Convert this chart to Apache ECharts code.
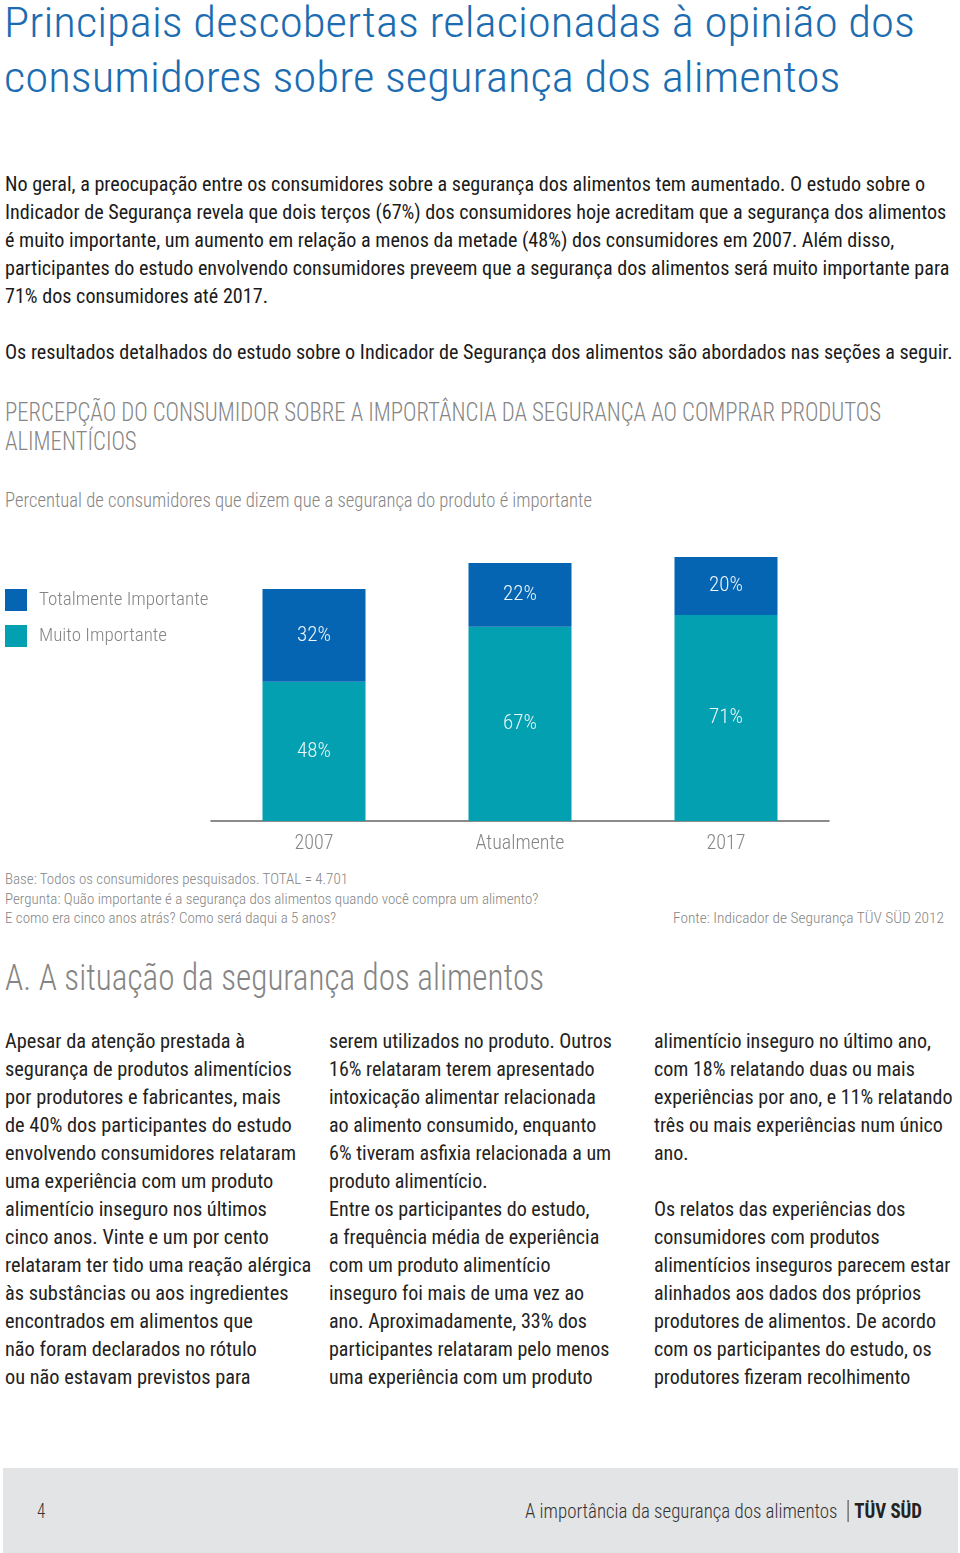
<!DOCTYPE html>
<html><head><meta charset="utf-8">
<script src="https://cdn.jsdelivr.net/npm/echarts@6/dist/echarts.min.js"></script>
<style>
html,body{margin:0;padding:0;background:#fff;}
body{width:960px;height:1553px;position:relative;overflow:hidden;font-family:"Liberation Sans Narrow","Roboto Condensed",Roboto,sans-serif;}
.b{position:absolute;white-space:nowrap;transform-origin:0 0;}
.b div{white-space:nowrap;}
.lt{font-weight:300;}
#chart{position:absolute;left:0;top:530px;width:960px;height:340px;}
#footer{position:absolute;left:3px;top:1468px;width:955px;height:85px;background:#e3e4e5;}
</style></head><body>

<div class="b lt" data-w="911" style="left:4px;top:-5px;font-size:42px;line-height:55px;color:#1b6cb1;">
<div>Principais descobertas relacionadas à opinião dos</div>
<div>consumidores sobre segurança dos alimentos</div>
</div>

<div class="b" data-w="920" style="left:5px;top:170px;font-size:20px;line-height:28px;color:#1a1a1a;">
<div>No geral, a preocupação entre os consumidores sobre a segurança dos alimentos tem aumentado. O estudo sobre o</div>
<div>Indicador de Segurança revela que dois terços (67%) dos consumidores hoje acreditam que a segurança dos alimentos</div>
<div>é muito importante, um aumento em relação a menos da metade (48%) dos consumidores em 2007. Além disso,</div>
<div>participantes do estudo envolvendo consumidores preveem que a segurança dos alimentos será muito importante para</div>
<div>71% dos consumidores até 2017.</div>
<div>&nbsp;</div>
<div>Os resultados detalhados do estudo sobre o Indicador de Segurança dos alimentos são abordados nas seções a seguir.</div>
</div>

<div class="b lt" data-w="876" style="left:5px;top:398px;font-size:25px;line-height:29px;color:#858585;">
<div>PERCEPÇÃO DO CONSUMIDOR SOBRE A IMPORTÂNCIA DA SEGURANÇA AO COMPRAR PRODUTOS</div>
<div>ALIMENTÍCIOS</div>
</div>

<div class="b lt" data-w="587" style="left:5px;top:488px;font-size:20px;line-height:24px;color:#858585;">
<div>Percentual de consumidores que dizem que a segurança do produto é importante</div>
</div>

<div id="chart"></div>

<div class="b lt" data-w="343" style="left:5px;top:870px;font-size:15px;line-height:19.5px;color:#858585;">
<div>Base: Todos os consumidores pesquisados. TOTAL = 4.701</div>
<div>Pergunta: Quão importante é a segurança dos alimentos quando você compra um alimento?</div>
<div>E como era cinco anos atrás? Como será daqui a 5 anos?</div>
</div>
<div class="b lt" data-w="271" style="left:673px;top:909px;font-size:15px;line-height:19.5px;color:#858585;">
<div>Fonte: Indicador de Segurança TÜV SÜD 2012</div>
</div>

<div class="b lt" data-w="539" style="left:5px;top:958px;font-size:36px;line-height:40px;color:#858585;">
<div>A. A situação da segurança dos alimentos</div>
</div>

<div class="b" data-w="240" style="left:5px;top:1027px;font-size:20px;line-height:28px;color:#222;">
<div>Apesar da atenção prestada à</div>
<div>segurança de produtos alimentícios</div>
<div>por produtores e fabricantes, mais</div>
<div>de 40% dos participantes do estudo</div>
<div>envolvendo consumidores relataram</div>
<div>uma experiência com um produto</div>
<div>alimentício inseguro nos últimos</div>
<div>cinco anos. Vinte e um por cento</div>
<div>relataram ter tido uma reação alérgica</div>
<div>às substâncias ou aos ingredientes</div>
<div>encontrados em alimentos que</div>
<div>não foram declarados no rótulo</div>
<div>ou não estavam previstos para</div>
</div>

<div class="b" data-w="283" style="left:329px;top:1027px;font-size:20px;line-height:28px;color:#222;">
<div>serem utilizados no produto. Outros</div>
<div>16% relataram terem apresentado</div>
<div>intoxicação alimentar relacionada</div>
<div>ao alimento consumido, enquanto</div>
<div>6% tiveram asfixia relacionada a um</div>
<div>produto alimentício.</div>
<div>Entre os participantes do estudo,</div>
<div>a frequência média de experiência</div>
<div>com um produto alimentício</div>
<div>inseguro foi mais de uma vez ao</div>
<div>ano. Aproximadamente, 33% dos</div>
<div>participantes relataram pelo menos</div>
<div>uma experiência com um produto</div>
</div>

<div class="b" data-w="277" style="left:654px;top:1027px;font-size:20px;line-height:28px;color:#222;">
<div>alimentício inseguro no último ano,</div>
<div>com 18% relatando duas ou mais</div>
<div>experiências por ano, e 11% relatando</div>
<div>três ou mais experiências num único</div>
<div>ano.</div>
<div>&nbsp;</div>
<div>Os relatos das experiências dos</div>
<div>consumidores com produtos</div>
<div>alimentícios inseguros parecem estar</div>
<div>alinhados aos dados dos próprios</div>
<div>produtores de alimentos. De acordo</div>
<div>com os participantes do estudo, os</div>
<div>produtores fizeram recolhimento</div>
</div>

<div id="footer"></div>
<div class="b lt" style="left:37px;top:1499px;font-size:20px;line-height:24px;color:#333;transform:scaleX(0.85);"><div>4</div></div>
<div class="b" data-w="397" style="left:525px;top:1499px;font-size:20px;line-height:24px;color:#333;"><div><span class="lt">A importância da segurança dos alimentos</span> <span style="display:inline-block;width:1px;height:22px;background:#333;vertical-align:-4px;margin:0 6px 0 6px;"></span><b style="color:#222;font-weight:700;">TÜV SÜD</b></div></div>

<script>
var categories = ['2007', 'Atualmente', '2017'];
var muitoImportante = [48, 67, 71];
var totalmenteImportante = [32, 22, 20];
var seriesNames = ['Totalmente Importante', 'Muito Importante'];

// fit each text block horizontally to the reference width of its first line
function fitBlocks() {
  var blocks = document.querySelectorAll('.b[data-w]');
  for (var i = 0; i < blocks.length; i++) {
    var b = blocks[i];
    var first = b.querySelector('div');
    b.style.transform = 'none';
    var range = document.createRange();
    range.selectNodeContents(first);
    var w = range.getBoundingClientRect().width;
    var target = parseFloat(b.getAttribute('data-w'));
    if (w > 0) b.style.transform = 'scaleX(' + (target / w) + ')';
  }
}
fitBlocks();

function pickFont(cands, fallback) {
  var ctx = document.createElement('canvas').getContext('2d');
  for (var i = 0; i < cands.length; i++) {
    ctx.font = '40px monospace';
    var w0 = ctx.measureText('Totalmente Importante 2007').width;
    ctx.font = '40px "' + cands[i] + '", monospace';
    var w1 = ctx.measureText('Totalmente Importante 2007').width;
    if (Math.abs(w1 - w0) > 0.5) return '"' + cands[i] + '"';
  }
  return fallback;
}
var narrow = pickFont(['Liberation Sans Narrow', 'Arial Narrow', 'Roboto Condensed', 'DejaVu Sans Condensed'], null);
var FONT = narrow || 'Roboto';
var condensed = !!narrow;

var chart = echarts.init(document.getElementById('chart'), null, {renderer: 'canvas'});
var labelStyle = {show: true, position: 'inside', color: '#eef7fa', fontSize: condensed ? 21 : 19,
  fontWeight: 300, fontFamily: FONT,
  formatter: function (p) { return p.value + '%'; }};
chart.setOption({
  animation: false,
  legend: {
    data: seriesNames, orient: 'vertical', left: 5, top: 59, padding: 0,
    itemWidth: 22, itemHeight: 22, itemGap: 14, icon: 'rect', selectedMode: false,
    textStyle: {color: '#858585', fontSize: condensed ? 19 : 17, fontWeight: 300, fontFamily: FONT, padding: [0, 0, 0, 7]}
  },
  grid: {left: 211, width: 618, top: 1, height: 290, containLabel: false},
  xAxis: {
    type: 'category', data: categories,
    axisLine: {lineStyle: {color: '#666', width: 1.5}},
    axisTick: {show: false},
    axisLabel: {color: '#858585', fontSize: condensed ? 20 : 18, fontWeight: 300, fontFamily: FONT, margin: 13}
  },
  yAxis: {type: 'value', min: 0, max: 100, show: false, splitLine: {show: false}},
  series: [
    {name: seriesNames[1], type: 'bar', stack: 's', data: muitoImportante, barWidth: 103,
     itemStyle: {color: '#03a0b1'}, label: labelStyle},
    {name: seriesNames[0], type: 'bar', stack: 's', data: totalmenteImportante, barWidth: 103,
     itemStyle: {color: '#0565b3'}, label: labelStyle}
  ]
});
</script>
</body></html>
